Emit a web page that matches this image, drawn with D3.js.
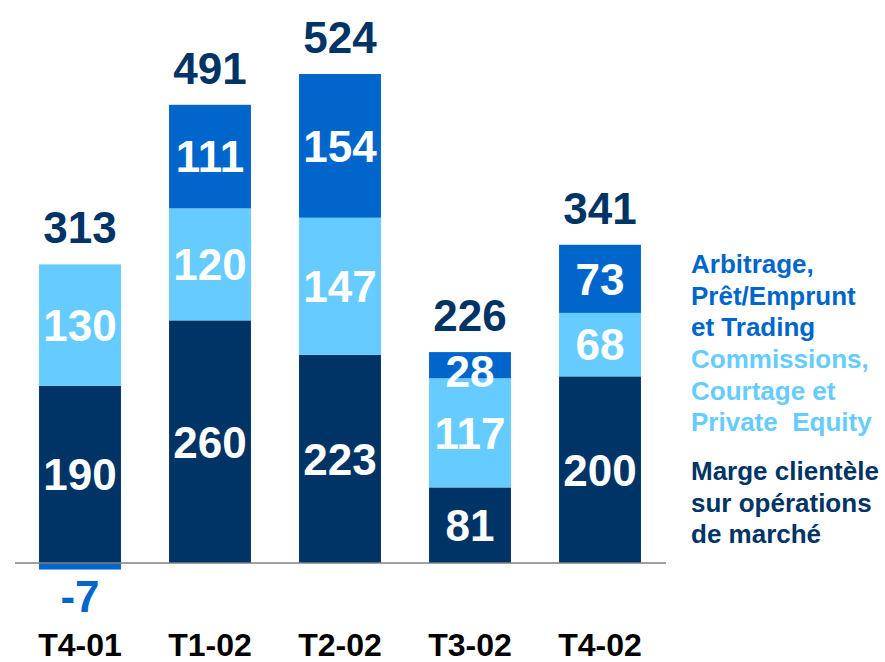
<!DOCTYPE html>
<html>
<head>
<meta charset="utf-8">
<script src="https://cdn.jsdelivr.net/npm/d3@7"></script>
<style>
  html, body { margin: 0; padding: 0; background: #fff; }
  svg { display: block; font-family: 'Liberation Sans', Arial, sans-serif; font-weight: bold; }
</style>
</head>
<body>
<div id="chart"></div>
<script>
// quarters and stacked segments (bottom to top)
const quarters = ['T4-01', 'T1-02', 'T2-02', 'T3-02', 'T4-02'];
const marge = [190, 260, 223, 81, 200];
const commissions = [130, 120, 147, 117, 68];
const arbitrage = [-7, 111, 154, 28, 73];
const totals = [313, 491, 524, 226, 341];

const legendLines = [
  { key: 'arbitrage', lines: ['Arbitrage,', 'Prêt/Emprunt', 'et Trading'] },
  { key: 'commissions', lines: ['Commissions,', 'Courtage et', 'Private\u00a0 Equity'] },
  { key: 'marge', lines: ['Marge clientèle', 'sur opérations', 'de marché'] }
];

const COLORS = { marge: '#003366', commissions: '#66ccff', arbitrage: '#0066cc' };

(function () {
  const W = 885, H = 662;
  const svg = d3.select('#chart').append('svg')
    .attr('width', W).attr('height', H)
    .attr('viewBox', `0 0 ${W} ${H}`);

  const x = d3.scaleBand().domain(quarters).range([15, 665])
    .paddingInner(0.37).paddingOuter(0.185);
  const y = d3.scaleLinear().domain([0, 524]).range([563, 74]);

  const rows = quarters.map((q, i) => ({
    q, marge: marge[i], commissions: commissions[i], arbitrage: arbitrage[i], total: totals[i]
  }));

  // build segments manually so negative values go under the baseline
  const segs = [];
  rows.forEach(r => {
    let top = 0;
    ['marge', 'commissions', 'arbitrage'].forEach(k => {
      const v = r[k];
      if (v >= 0) {
        segs.push({ q: r.q, key: k, v, y0: top, y1: top + v });
        top += v;
      } else {
        segs.push({ q: r.q, key: k, v, y0: v, y1: 0 });
      }
    });
    r.top = top;
  });

  svg.append('g').selectAll('rect')
    .data(segs).enter().append('rect')
    .attr('x', d => x(d.q))
    .attr('width', x.bandwidth())
    .attr('y', d => y(d.y1))
    .attr('height', d => y(d.y0) - y(d.y1))
    .attr('fill', d => COLORS[d.key]);

  // baseline
  svg.append('line')
    .attr('x1', 15).attr('x2', 666)
    .attr('y1', y(0)).attr('y2', y(0))
    .attr('stroke', '#808080').attr('stroke-width', 1.5);

  const numSize = 44;

  // segment values
  svg.append('g').selectAll('text')
    .data(segs).enter().append('text')
    .attr('x', d => x(d.q) + x.bandwidth() / 2)
    .attr('y', d => d.v < 0
      ? y(d.y0) + 42
      : (y(d.y0) + y(d.y1)) / 2 + numSize * 0.36 + (d.v < 40 ? 6 : 0))
    .attr('text-anchor', 'middle')
    .style('font-size', numSize + 'px')
    .style('fill', d => d.v < 0 ? COLORS.arbitrage : '#fff')
    .text(d => d.v);

  // totals
  svg.append('g').selectAll('text')
    .data(rows).enter().append('text')
    .attr('x', d => x(d.q) + x.bandwidth() / 2)
    .attr('y', d => y(d.top) - 21)
    .attr('text-anchor', 'middle')
    .style('font-size', numSize + 'px')
    .style('fill', COLORS.marge)
    .text(d => d.total);

  // category labels
  svg.append('g').selectAll('text')
    .data(quarters).enter().append('text')
    .attr('x', d => x(d) + x.bandwidth() / 2)
    .attr('y', 656)
    .attr('text-anchor', 'middle')
    .style('font-size', '32px')
    .style('fill', '#000')
    .text(d => d);

  // legend
  const legendY = { arbitrage: 273, commissions: 368, marge: 480 };
  legendLines.forEach(item => {
    item.lines.forEach((line, j) => {
      svg.append('text')
        .attr('x', 691)
        .attr('y', legendY[item.key] + j * 31.5)
        .style('font-size', '26px')
        .style('fill', COLORS[item.key])
        .text(line);
    });
  });
})();
</script>
</body>
</html>
